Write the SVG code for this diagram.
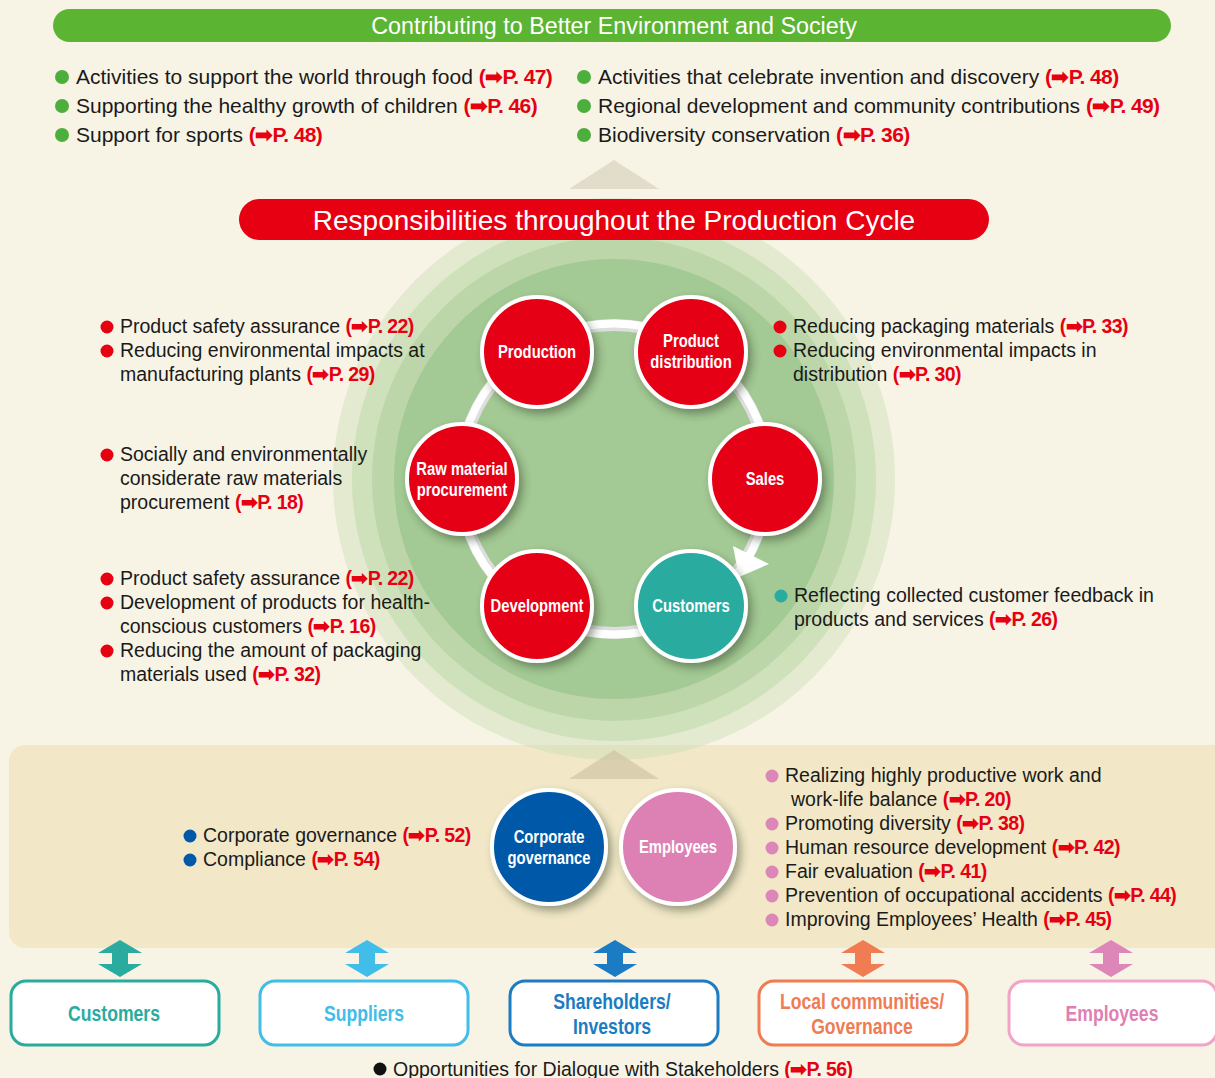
<svg xmlns="http://www.w3.org/2000/svg" width="1215" height="1078" viewBox="0 0 1215 1078">
<defs>
<style>
.t{font-family:"Liberation Sans",Arial,sans-serif;font-size:19.5px;fill:#1a1a1a}
.tt{font-family:"Liberation Sans",Arial,sans-serif;font-size:21px;fill:#1a1a1a}
.r{font-weight:bold;fill:#e60012;letter-spacing:-0.6px}
.lbl{font-family:"Liberation Sans",Arial,sans-serif;font-weight:bold;font-size:19px;fill:#fff;text-anchor:middle}
.box{font-family:"Liberation Sans",Arial,sans-serif;font-weight:bold;font-size:22px;text-anchor:middle}
.node{stroke:#fff;stroke-width:4}
</style>
<filter id="sh" x="-30%" y="-30%" width="170%" height="170%">
<feDropShadow dx="4" dy="5" stdDeviation="4" flood-color="#2f3a28" flood-opacity="0.45"/>
</filter>
<path id="dbl" d="M0,0 L22,13 L8,13 L8,24 L22,24 L0,37 L-22,24 L-8,24 L-8,13 L-22,13 Z"/>
</defs>
<rect width="1215" height="1078" fill="#f7f4e6"/>
<rect x="9" y="745" width="1225" height="203" rx="16" fill="#f2e8c8"/>

<g id="rings">
<circle cx="614" cy="479" r="281" fill="#c9ddb4" opacity="0.45"/>
<circle cx="614" cy="479" r="262" fill="#c0d8ab" opacity="0.55"/>
<circle cx="614" cy="479" r="242" fill="#b4d1a1" opacity="0.7"/>
<circle cx="614" cy="479" r="220" fill="#a3c994"/>
</g>

<g id="connectors">
<circle cx="614" cy="479" r="154" fill="none" stroke="#dedede" stroke-width="12"/>
<circle cx="614" cy="479" r="155.5" fill="none" stroke="#fff" stroke-width="8"/>
<polygon points="733,546 769,564 739,577" fill="#fff"/>
<g fill="#2aab9f"><use href="#dbl" x="120" y="940"/></g>
<g fill="#40bde8"><use href="#dbl" x="367" y="940"/></g>
<g fill="#1b7cc4"><use href="#dbl" x="615" y="940"/></g>
<g fill="#ef7c52"><use href="#dbl" x="863" y="940"/></g>
<g fill="#dd86b8"><use href="#dbl" x="1111" y="940"/></g>
</g>

<polygon points="614,160 659,189 569,189" fill="#e2dccb"/>
<polygon points="614,750 659,779 569,779" fill="#cdc29f" opacity="0.65"/>

<g id="banner-top">
<rect x="53" y="9" width="1118" height="33" rx="16.5" fill="#5bb432"/>
<text x="614" y="34" font-family="Liberation Sans, Arial, sans-serif" font-size="23.3" fill="#fff" text-anchor="middle">Contributing to Better Environment and Society</text>
</g>
<g id="banner-red">
<rect x="239" y="199" width="750" height="41" rx="20.5" fill="#e60012"/>
<text x="614" y="230" font-family="Liberation Sans, Arial, sans-serif" font-size="28" fill="#fff" text-anchor="middle">Responsibilities throughout the Production Cycle</text>
</g>

<g id="production" filter="url(#sh)"><circle class="node" cx="537" cy="352" r="55" fill="#e60012"/></g>
<text class="lbl" transform="translate(537,358) scale(0.78,1)">Production</text>
<g id="distribution" filter="url(#sh)"><circle class="node" cx="691" cy="352" r="55" fill="#e60012"/></g>
<text class="lbl" transform="translate(691,347) scale(0.78,1)">Product</text>
<text class="lbl" transform="translate(691,368) scale(0.78,1)">distribution</text>
<g id="sales" filter="url(#sh)"><circle class="node" cx="765" cy="479" r="55" fill="#e60012"/></g>
<text class="lbl" transform="translate(765,485) scale(0.78,1)">Sales</text>
<g id="customers" filter="url(#sh)"><circle class="node" cx="691" cy="606" r="55" fill="#2aab9f"/></g>
<text class="lbl" transform="translate(691,612) scale(0.78,1)">Customers</text>
<g id="development" filter="url(#sh)"><circle class="node" cx="537" cy="606" r="55" fill="#e60012"/></g>
<text class="lbl" transform="translate(537,612) scale(0.78,1)">Development</text>
<g id="raw" filter="url(#sh)"><circle class="node" cx="462" cy="479" r="55" fill="#e60012"/></g>
<text class="lbl" transform="translate(462,475) scale(0.78,1)">Raw material</text>
<text class="lbl" transform="translate(462,496) scale(0.78,1)">procurement</text>

<g id="corp-gov" filter="url(#sh)"><circle class="node" cx="549" cy="847" r="57" fill="#0058a9"/></g>
<text class="lbl" transform="translate(549,843) scale(0.78,1)">Corporate</text>
<text class="lbl" transform="translate(549,864) scale(0.78,1)">governance</text>
<g id="employees-c" filter="url(#sh)"><circle class="node" cx="678" cy="847" r="57" fill="#dd80b3"/></g>
<text class="lbl" transform="translate(678,853) scale(0.78,1)">Employees</text>

<g id="top-bullets">
<g fill="#4caf3c">
<circle cx="62" cy="77" r="7"/><circle cx="62" cy="106" r="7"/><circle cx="62" cy="135" r="7"/>
<circle cx="584" cy="77" r="7"/><circle cx="584" cy="106" r="7"/><circle cx="584" cy="135" r="7"/>
</g>
<text class="tt" x="76" y="84">Activities to support the world through food <tspan class="r">(➡P. 47)</tspan></text>
<text class="tt" x="76" y="113">Supporting the healthy growth of children <tspan class="r">(➡P. 46)</tspan></text>
<text class="tt" x="76" y="142">Support for sports <tspan class="r">(➡P. 48)</tspan></text>
<text class="tt" x="598" y="84">Activities that celebrate invention and discovery <tspan class="r">(➡P. 48)</tspan></text>
<text class="tt" x="598" y="113">Regional development and community contributions <tspan class="r">(➡P. 49)</tspan></text>
<text class="tt" x="598" y="142">Biodiversity conservation <tspan class="r">(➡P. 36)</tspan></text>
</g>

<g id="left-bullets">
<g fill="#e60012">
<circle cx="107" cy="327" r="6.5"/><circle cx="107" cy="351" r="6.5"/>
<circle cx="107" cy="455" r="6.5"/>
<circle cx="107" cy="579" r="6.5"/><circle cx="107" cy="603" r="6.5"/><circle cx="107" cy="651" r="6.5"/>
<circle cx="780" cy="327" r="6.5"/><circle cx="780" cy="351" r="6.5"/>
</g>
<text class="t" x="120" y="333">Product safety assurance <tspan class="r">(➡P. 22)</tspan></text>
<text class="t" x="120" y="357">Reducing environmental impacts at</text>
<text class="t" x="120" y="381">manufacturing plants <tspan class="r">(➡P. 29)</tspan></text>
<text class="t" x="120" y="461">Socially and environmentally</text>
<text class="t" x="120" y="485">considerate raw materials</text>
<text class="t" x="120" y="509">procurement <tspan class="r">(➡P. 18)</tspan></text>
<text class="t" x="120" y="585">Product safety assurance <tspan class="r">(➡P. 22)</tspan></text>
<text class="t" x="120" y="609">Development of products for health-</text>
<text class="t" x="120" y="633">conscious customers <tspan class="r">(➡P. 16)</tspan></text>
<text class="t" x="120" y="657">Reducing the amount of packaging</text>
<text class="t" x="120" y="681">materials used <tspan class="r">(➡P. 32)</tspan></text>
<text class="t" x="793" y="333">Reducing packaging materials <tspan class="r">(➡P. 33)</tspan></text>
<text class="t" x="793" y="357">Reducing environmental impacts in</text>
<text class="t" x="793" y="381">distribution <tspan class="r">(➡P. 30)</tspan></text>
<circle cx="781" cy="596" r="6.5" fill="#2aab9f"/>
<text class="t" x="794" y="602">Reflecting collected customer feedback in</text>
<text class="t" x="794" y="626">products and services <tspan class="r">(➡P. 26)</tspan></text>
</g>

<g id="gov-bullets">
<circle cx="190" cy="836" r="6.5" fill="#0058a9"/><circle cx="190" cy="860" r="6.5" fill="#0058a9"/>
<text class="t" x="203" y="842">Corporate governance <tspan class="r">(➡P. 52)</tspan></text>
<text class="t" x="203" y="866">Compliance <tspan class="r">(➡P. 54)</tspan></text>
</g>

<g id="emp-bullets">
<g fill="#dd86b8">
<circle cx="772" cy="776" r="6.5"/><circle cx="772" cy="824" r="6.5"/><circle cx="772" cy="848" r="6.5"/>
<circle cx="772" cy="872" r="6.5"/><circle cx="772" cy="896" r="6.5"/><circle cx="772" cy="920" r="6.5"/>
</g>
<text class="t" x="785" y="782">Realizing highly productive work and</text>
<text class="t" x="791" y="806">work-life balance <tspan class="r">(➡P. 20)</tspan></text>
<text class="t" x="785" y="830">Promoting diversity <tspan class="r">(➡P. 38)</tspan></text>
<text class="t" x="785" y="854">Human resource development <tspan class="r">(➡P. 42)</tspan></text>
<text class="t" x="785" y="878">Fair evaluation <tspan class="r">(➡P. 41)</tspan></text>
<text class="t" x="785" y="902">Prevention of occupational accidents <tspan class="r">(➡P. 44)</tspan></text>
<text class="t" x="785" y="926">Improving Employees’ Health <tspan class="r">(➡P. 45)</tspan></text>
</g>

<g id="sh-customers">
<rect x="11" y="981" width="208" height="64" rx="15" fill="#fff" stroke="#2aab9f" stroke-width="3"/>
<text class="box" fill="#2aab9f" transform="translate(114,1021) scale(0.8,1)">Customers</text>
</g>
<g id="sh-suppliers">
<rect x="260" y="981" width="208" height="64" rx="15" fill="#fff" stroke="#40bde8" stroke-width="3"/>
<text class="box" fill="#40bde8" transform="translate(364,1021) scale(0.8,1)">Suppliers</text>
</g>
<g id="sh-shareholders">
<rect x="510" y="981" width="208" height="64" rx="15" fill="#fff" stroke="#1b7cc4" stroke-width="3"/>
<text class="box" fill="#1b7cc4" transform="translate(612,1009) scale(0.8,1)">Shareholders/</text>
<text class="box" fill="#1b7cc4" transform="translate(612,1034) scale(0.8,1)">Investors</text>
</g>
<g id="sh-local">
<rect x="759" y="981" width="208" height="64" rx="15" fill="#fff" stroke="#ef7c52" stroke-width="3"/>
<text class="box" fill="#ef7c52" transform="translate(862,1009) scale(0.8,1)">Local communities/</text>
<text class="box" fill="#ef7c52" transform="translate(862,1034) scale(0.8,1)">Governance</text>
</g>
<g id="sh-employees">
<rect x="1009" y="981" width="208" height="64" rx="15" fill="#fff" stroke="#f3a3c7" stroke-width="3"/>
<text class="box" fill="#e07fb6" transform="translate(1112,1021) scale(0.8,1)">Employees</text>
</g>

<g id="footer">
<circle cx="380" cy="1069" r="6.5" fill="#111"/>
<text class="t" x="393" y="1076">Opportunities for Dialogue with Stakeholders <tspan class="r">(➡P. 56)</tspan></text>
</g>
</svg>
